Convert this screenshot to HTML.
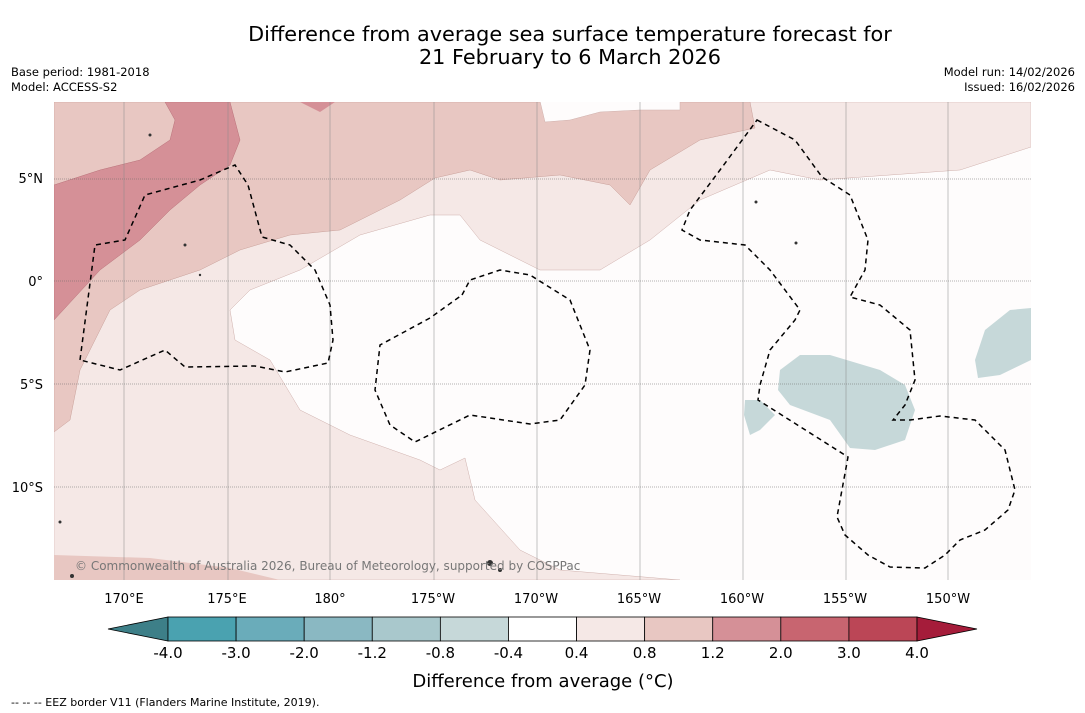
<!DOCTYPE html>
<html><head><meta charset="utf-8">
<style>
body{margin:0;background:#fff;width:1085px;height:713px;overflow:hidden;font-family:"DejaVu Sans","Liberation Sans",sans-serif;}
svg{display:block}
</style></head>
<body>
<svg width="1085" height="713" viewBox="0 0 1085 713" font-family="DejaVu Sans, Liberation Sans, sans-serif">
<text x="570" y="41" font-size="20.8" text-anchor="middle">Difference from average sea surface temperature forecast for</text>
<text x="570" y="64" font-size="20.8" text-anchor="middle">21 February to 6 March 2026</text>
<text x="11" y="76" font-size="11.5">Base period: 1981-2018</text>
<text x="11" y="91" font-size="11.5">Model: ACCESS-S2</text>
<text x="1075" y="76" font-size="11.5" text-anchor="end">Model run: 14/02/2026</text>
<text x="1075" y="91" font-size="11.5" text-anchor="end">Issued: 16/02/2026</text>
<defs><clipPath id="mc"><rect x="54" y="102" width="977" height="478"/></clipPath></defs>
<g clip-path="url(#mc)">
<rect x="54" y="102" width="977" height="478" fill="#fefcfc"/>
<path fill="#f5e8e6" stroke="#cfb0ac" stroke-width="0.5" d="M54,102 L1031,102 L1031,147 L960,170 L820,180 L770,170 L700,200 L650,240 L600,270 L540,270 L480,240 L460,215 L430,215 L360,235 L300,270 L250,290 L230,310 L235,340 L270,360 L300,410 L350,435 L420,460 L440,470 L465,458 L475,500 L520,550 L560,570 L680,580 L54,580 Z"/>
<path fill="#e8c7c2" stroke="#c9a09a" stroke-width="0.5" d="M54,102 L750,102 L755,128 L700,140 L650,170 L630,205 L610,185 L560,175 L500,180 L470,170 L435,178 L400,200 L340,230 L290,235 L240,250 L200,270 L140,290 L110,310 L80,370 L70,420 L54,432 Z"/>
<path fill="#fefcfc" stroke="#cfb0ac" stroke-width="0.5" d="M540,101 L545,122 L570,120 L600,112 L640,110 L680,110 L680,101 Z"/>
<path fill="#e8c7c2" d="M54,555 L150,558 L230,568 L280,580 L54,580 Z"/>
<path fill="#d59097" stroke="#b87078" stroke-width="0.5" d="M54,185 L54,320 L100,270 L140,240 L170,210 L200,185 L230,165 L240,140 L230,102 L165,102 L175,120 L170,140 L140,160 L100,170 Z"/>
<path fill="#d59097" d="M300,102 L320,112 L335,102 Z"/>
<path fill="#c6d8d9" d="M780,370 L800,355 L830,355 L880,370 L905,385 L915,410 L905,440 L875,450 L850,448 L830,420 L790,405 L778,390 Z"/>
<path fill="#c6d8d9" d="M745,400 L760,400 L775,415 L760,430 L750,435 L744,415 Z"/>
<path fill="#c6d8d9" d="M1031,308 L1010,310 L985,330 L975,360 L978,378 L1000,375 L1031,360 Z"/>
<g stroke="#666" stroke-width="0.6">
<g stroke-dasharray="1,1">
<line x1="54" y1="179" x2="1031" y2="179"/><line x1="54" y1="281" x2="1031" y2="281"/><line x1="54" y1="384" x2="1031" y2="384"/><line x1="54" y1="487" x2="1031" y2="487"/></g>
<g stroke="#888" stroke-width="0.5"><line x1="124" y1="102" x2="124" y2="580"/><line x1="228" y1="102" x2="228" y2="580"/><line x1="330" y1="102" x2="330" y2="580"/><line x1="434" y1="102" x2="434" y2="580"/><line x1="537" y1="102" x2="537" y2="580"/><line x1="640" y1="102" x2="640" y2="580"/><line x1="743" y1="102" x2="743" y2="580"/><line x1="846" y1="102" x2="846" y2="580"/><line x1="948" y1="102" x2="948" y2="580"/></g>
</g>
<g fill="none" stroke="#000" stroke-width="1.5" stroke-dasharray="5,4">
<path d="M80,360 L95,245 L125,240 L145,195 L200,180 L235,165 L248,185 L262,237 L290,245 L315,270 L330,305 L333,340 L328,363 L285,372 L255,366 L185,367 L165,350 L120,370 Z"/>
<path d="M462,295 L470,280 L500,270 L530,275 L570,300 L590,350 L585,385 L560,420 L530,424 L470,415 L415,442 L390,425 L375,390 L380,345 L430,318 Z"/>
<path d="M757,120 L795,140 L822,177 L850,195 L868,240 L865,270 L850,297 L880,305 L910,330 L915,380 L905,405 L893,420 L910,420 L940,416 L975,420 L1005,450 L1015,490 L1008,510 L985,530 L960,540 L945,555 L925,568 L890,567 L868,555 L845,535 L837,517 L848,457 L758,400 L760,385 L770,350 L795,320 L800,310 L770,270 L745,245 L700,240 L682,230 L690,210 L720,170 Z"/>
</g>
<g fill="#333">
<circle cx="150" cy="135" r="1.5"/><circle cx="185" cy="245" r="1.5"/><circle cx="200" cy="275" r="1.2"/><circle cx="756" cy="202" r="1.5"/><circle cx="796" cy="243" r="1.5"/><circle cx="490" cy="563" r="3"/><circle cx="500" cy="570" r="2"/><circle cx="60" cy="522" r="1.5"/><circle cx="72" cy="576" r="2"/>
</g>
<text x="75" y="570" font-size="12" fill="#777">© Commonwealth of Australia 2026, Bureau of Meteorology, supported by COSPPac</text>
</g>
<g font-size="13" fill="#000">
<text x="43" y="183" text-anchor="end">5°N</text><text x="43" y="286" text-anchor="end">0°</text><text x="43" y="389" text-anchor="end">5°S</text><text x="43" y="492" text-anchor="end">10°S</text>
</g>
<g id="xlabels" font-size="13" text-anchor="middle"></g>
<g id="cbar"></g>
<text x="543" y="687" font-size="18" text-anchor="middle">Difference from average (°C)</text>
<text x="11" y="706" font-size="11">--  --  -- EEZ border V11 (Flanders Marine Institute, 2019).</text>
</svg>
<script>
const lonLabels=["170°E","175°E","180°","175°W","170°W","165°W","160°W","155°W","150°W"];
const lonValues=[170,175,180,185,190,195,200,205,210];
const cbarTicks=["-4.0","-3.0","-2.0","-1.2","-0.8","-0.4","0.4","0.8","1.2","2.0","3.0","4.0"];
const cbarColors=["#4aa2b0","#6aacba","#8ab8c2","#a9c8cc","#c6d8d9","#ffffff","#f5e8e6","#e8c7c2","#d59097","#c86570","#bb4656"];
const NS="http://www.w3.org/2000/svg";
function lonX(l){return 124+(l-170)*20.6;}
const xl=document.getElementById('xlabels');
lonLabels.forEach((t,i)=>{const e=document.createElementNS(NS,'text');
e.setAttribute('x',lonX(lonValues[i]));e.setAttribute('y',603);e.textContent=t;


xl.appendChild(e);});
const cb=document.getElementById('cbar');
const x0=168,w=(917-168)/cbarColors.length,y0=617,h=24;
function add(tag,attrs){const e=document.createElementNS(NS,tag);for(const k in attrs)e.setAttribute(k,attrs[k]);cb.appendChild(e);return e;}
let l=add('polygon',{points:`108,${y0+h/2} ${x0},${y0} ${x0},${y0+h}`,fill:'#3d7f88',stroke:'#000','stroke-width':0.8});


cbarColors.forEach((c,i)=>{const r=add('rect',{x:x0+i*w,y:y0,width:w,height:h,fill:c,stroke:'#000','stroke-width':0.8});

});
let rt=add('polygon',{points:`917,${y0} 977,${y0+h/2} 917,${y0+h}`,fill:'#a51c3a',stroke:'#000','stroke-width':0.8});


cbarTicks.forEach((t,i)=>{const e=add('text',{x:x0+i*w,y:658,'font-size':15,'text-anchor':'middle'});e.textContent=t;

});
</script>
</body></html>
